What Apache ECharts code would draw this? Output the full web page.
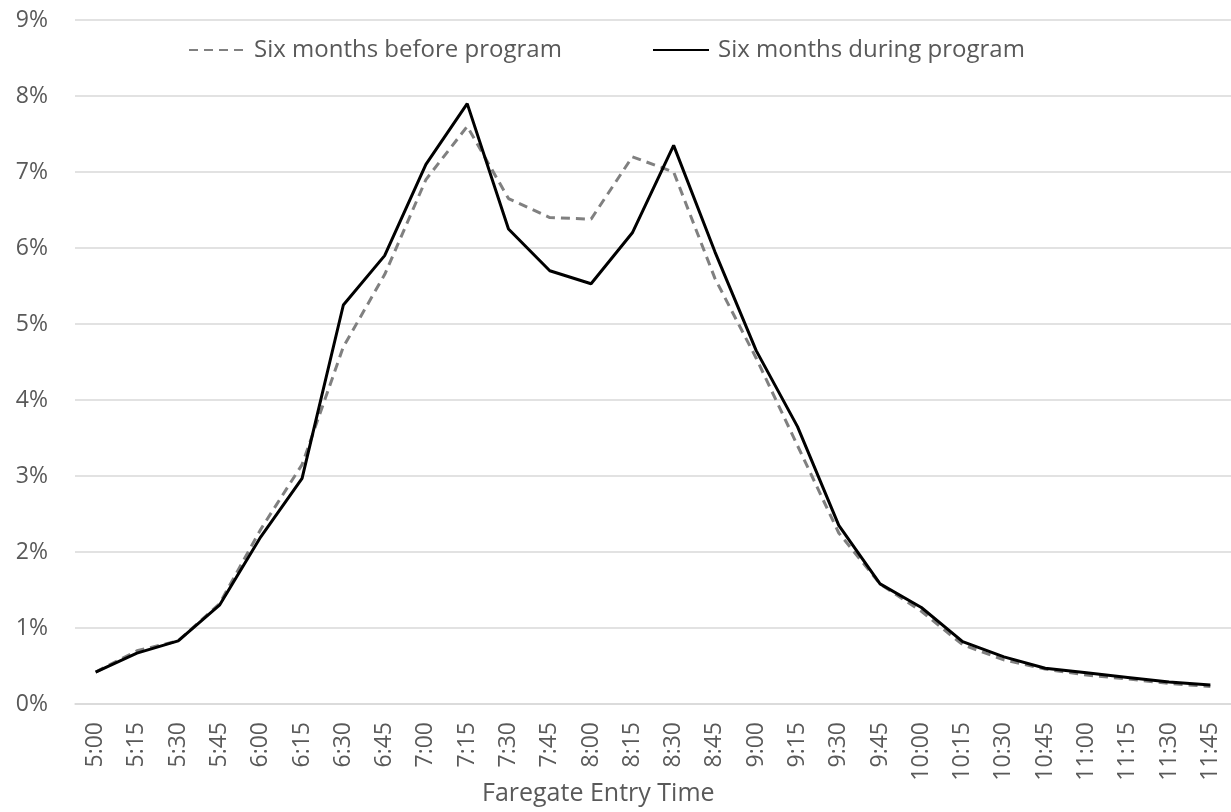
<!DOCTYPE html>
<html>
<head>
<meta charset="utf-8">
<script src="https://cdn.jsdelivr.net/npm/echarts@6/dist/echarts.min.js"></script>
<style>
  html, body { margin: 0; padding: 0; background: #fff; }
  #chart { width: 1231px; height: 812px; }
</style>
</head>
<body>
<div id="chart"></div>
<script>
const times = [
  '5:00', '5:15', '5:30', '5:45', '6:00', '6:15', '6:30', '6:45',
  '7:00', '7:15', '7:30', '7:45', '8:00', '8:15', '8:30', '8:45',
  '9:00', '9:15', '9:30', '9:45', '10:00', '10:15', '10:30', '10:45',
  '11:00', '11:15', '11:30', '11:45'
];
// percent of entries per 15 min
const before = [
  0.42, 0.70, 0.83, 1.32, 2.30, 3.15, 4.70, 5.65,
  6.90, 7.60, 6.65, 6.40, 6.38, 7.20, 7.00, 5.60,
  4.55, 3.40, 2.25, 1.58, 1.22, 0.78, 0.58, 0.46,
  0.38, 0.33, 0.27, 0.23
];
const during = [
  0.42, 0.67, 0.83, 1.30, 2.20, 2.97, 5.25, 5.90,
  7.10, 7.90, 6.25, 5.70, 5.53, 6.20, 7.35, 5.95,
  4.65, 3.65, 2.35, 1.58, 1.27, 0.82, 0.62, 0.47,
  0.41, 0.35, 0.29, 0.25
];
const yTicks = [0, 1, 2, 3, 4, 5, 6, 7, 8, 9];

const chart = echarts.init(document.getElementById('chart'));
const font = '"Open Sans", Lato, sans-serif';
const textColor = '#595959';

const legendBase = {
  top: 33,
  itemWidth: 56,
  itemHeight: 14,
  // hide the marker dot, keep only the line sample
  itemStyle: { color: 'rgba(0,0,0,0)', borderWidth: 0 },
  textStyle: { color: textColor, fontSize: 24, fontFamily: font, padding: [0, 0, 0, 4] }
};

chart.setOption({
  animation: false,
  textStyle: { fontFamily: font },
  title: {
    text: 'Faregate Entry Time',
    left: 482,
    top: 781,
    padding: 0,
    textStyle: { color: textColor, fontSize: 25, fontWeight: 'normal', fontFamily: font }
  },
  legend: [
    Object.assign({}, legendBase, { left: 183, data: ['Six months before program'] }),
    Object.assign({}, legendBase, { left: 647, data: ['Six months during program'] })
  ],
  grid: { left: 75, width: 1163, top: 20, bottom: 108 },
  xAxis: {
    type: 'category',
    data: times,
    boundaryGap: true,
    axisLine: { show: true, lineStyle: { color: '#d9d9d9', width: 1.5 } },
    axisTick: { show: false },
    axisLabel: {
      rotate: 90,
      interval: 0,
      color: textColor,
      fontSize: 23,
      margin: 18,
      fontFamily: font
    }
  },
  yAxis: {
    type: 'value',
    min: yTicks[0],
    max: yTicks[yTicks.length - 1],
    interval: 1,
    axisLine: { show: false },
    axisTick: { show: false },
    axisLabel: {
      color: textColor,
      fontSize: 23,
      margin: 27,
      fontFamily: font,
      formatter: v => v + '%'
    },
    splitLine: { lineStyle: { color: '#d9d9d9', width: 1.5 } }
  },
  series: [
    {
      name: 'Six months before program',
      type: 'line',
      data: before,
      symbol: 'none',
      lineStyle: { color: '#808080', width: 3, type: [9, 6] },
      itemStyle: { color: '#808080' }
    },
    {
      name: 'Six months during program',
      type: 'line',
      data: during,
      symbol: 'none',
      lineStyle: { color: '#000', width: 3 },
      itemStyle: { color: '#000' }
    }
  ]
});
</script>
</body>
</html>
